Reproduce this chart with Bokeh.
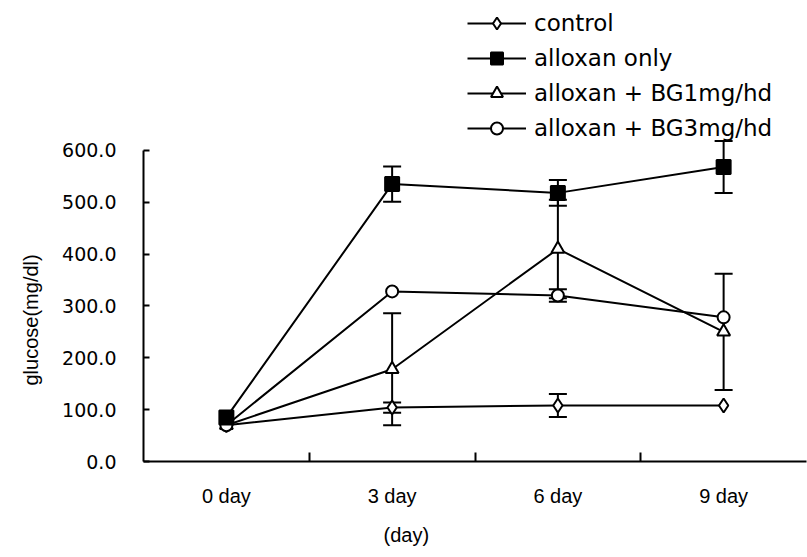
from bokeh.plotting import figure
from bokeh.models import (ColumnDataSource, Whisker, TeeHead, Legend, LegendItem,
                          FixedTicker, PrintfTickFormatter, Range1d, Title)
from bokeh.embed import file_html
from bokeh.resources import INLINE

# ---- data: blood glucose (mg/dl), mean and error per time point ----
days = ["0 day", "3 day", "6 day", "9 day"]

control = [70, 104, 108, 108]
control_err = [0, 10, 22, 0]

alloxan_only = [85, 535, 518, 568]
alloxan_only_err = [0, 34, 25, 50]

alloxan_bg1 = [70, 178, 410, 250]
alloxan_bg1_err = [0, 108, 95, 112]

alloxan_bg3 = [70, 328, 320, 278]
alloxan_bg3_err = [0, 0, 12, 0]

series_names = ["control", "alloxan only", "alloxan + BG1mg/hd", "alloxan + BG3mg/hd"]
y_ticks = [0, 100, 200, 300, 400, 500, 600]

# ---- layout ----
n = len(days)
xs = [i + 0.5 for i in range(n)]          # category centres
bounds_ticks = [i for i in range(1, n)]   # tick marks between categories

# frame spans the full height so the legend can sit above the 600 line;
# the y axis line itself stops at 600
p = figure(width=807, height=557,
           x_range=Range1d(0, n), y_range=Range1d(0, 889),
           output_backend="svg", toolbar_location=None,
           min_border_left=143, min_border_right=1,
           min_border_top=0, min_border_bottom=96)
p.outline_line_color = None
p.xgrid.grid_line_color = None
p.ygrid.grid_line_color = None
p.background_fill_color = "white"

# y axis
ya = p.yaxis[0]
ya.ticker = FixedTicker(ticks=y_ticks)
ya.formatter = PrintfTickFormatter(format="%.1f")
ya.bounds = (y_ticks[0], y_ticks[-1])
ya.axis_line_width = 2
ya.axis_line_color = "black"
ya.major_tick_line_width = 2
ya.major_tick_line_color = "black"
ya.major_tick_in = 6
ya.major_tick_out = 0
ya.minor_tick_line_color = None
ya.major_label_standoff = 27
ya.major_label_text_font = "DejaVu Sans"
ya.major_label_text_font_size = "19px"
ya.major_label_text_color = "black"

# x axis: labels at category centres, ticks on category boundaries
xa = p.xaxis[0]
xa.ticker = FixedTicker(ticks=xs, minor_ticks=bounds_ticks)
xa.major_label_overrides = {x: d for x, d in zip(xs, days)}
xa.axis_line_width = 2
xa.axis_line_color = "black"
xa.major_tick_in = 0
xa.major_tick_out = 0
xa.minor_tick_in = 9
xa.minor_tick_out = 0
xa.minor_tick_line_width = 2
xa.minor_tick_line_color = "black"
xa.major_label_standoff = 23
xa.major_label_text_font = "Liberation Sans"
xa.major_label_text_font_size = "20px"
xa.major_label_text_color = "black"

# axis titles
p.add_layout(Title(text="glucose(mg/dl)", align="left", offset=76, standoff=35,
                   text_font="Liberation Sans", text_font_size="20px",
                   text_font_style="normal", text_color="black"), "left")
p.add_layout(Title(text="(day)", align="left", offset=240, standoff=24,
                   text_font="Liberation Sans", text_font_size="20px",
                   text_font_style="normal", text_color="black"), "below")

# ---- series ----
styles = [
    dict(marker="diamond", size=14, fill_color="white"),
    dict(marker="square", size=14, fill_color="black"),
    dict(marker="triangle", size=13, fill_color="white"),
    dict(marker="circle", size=12, fill_color="white"),
]
values = [control, alloxan_only, alloxan_bg1, alloxan_bg3]
errors = [control_err, alloxan_only_err, alloxan_bg1_err, alloxan_bg3_err]

sources = [ColumnDataSource(dict(x=xs, y=vals)) for vals in values]

# connecting lines first, then the markers (filled squares on top)
line_r = [p.line("x", "y", source=src, line_color="black", line_width=2)
          for src in sources]
marker_r = [None] * len(values)
for i in [0, 2, 3, 1]:
    st = styles[i]
    marker_r[i] = p.scatter("x", "y", source=sources[i], marker=st["marker"],
                            size=st["size"], fill_color=st["fill_color"],
                            line_color="black", line_width=2)

items = [LegendItem(label=name, renderers=[rl, rs])
         for name, rl, rs in zip(series_names, line_r, marker_r)]

# error bars (only where an error is reported)
for vals, errs in zip(values, errors):
    base = [x for x, e in zip(xs, errs) if e > 0]
    upper = [v + e for v, e in zip(vals, errs) if e > 0]
    lower = [v - e for v, e in zip(vals, errs) if e > 0]
    if not base:
        continue
    esrc = ColumnDataSource(dict(base=base, upper=upper, lower=lower))
    p.add_layout(Whisker(base="base", upper="upper", lower="lower", source=esrc,
                         dimension="height", line_color="black", line_width=2,
                         upper_head=TeeHead(size=18, line_width=2, line_color="black"),
                         lower_head=TeeHead(size=18, line_width=2, line_color="black")))

legend = Legend(items=items, location=(324, 318),
                glyph_width=59, glyph_height=30, label_height=30,
                label_standoff=8, spacing=5, padding=0, margin=0,
                border_line_color=None, background_fill_alpha=0,
                label_text_font="DejaVu Sans", label_text_font_size="23px",
                label_text_color="black")
p.add_layout(legend)

open("out.html", "w").write(file_html(p, INLINE))
